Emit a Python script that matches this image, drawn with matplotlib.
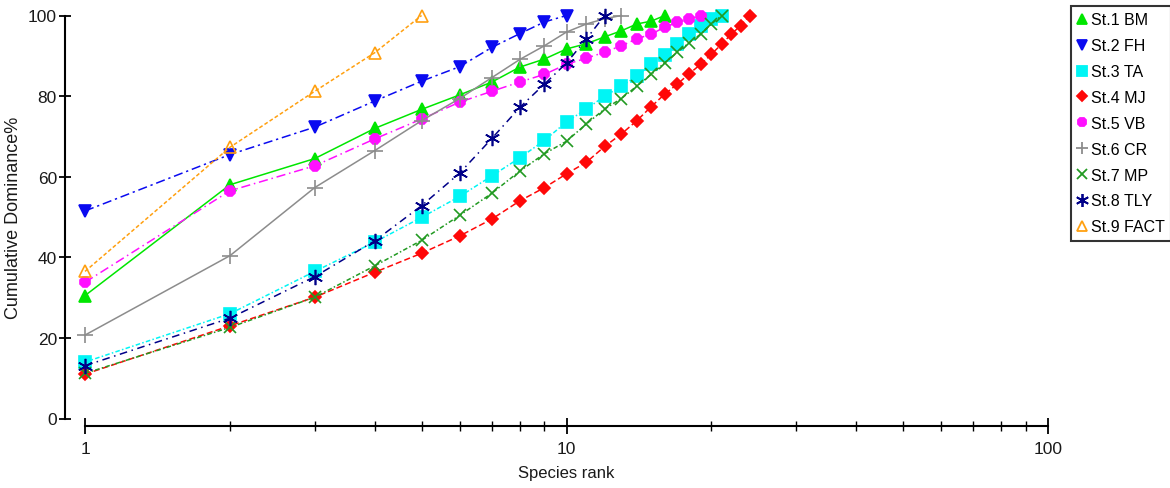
import numpy as np
import matplotlib
matplotlib.use("Agg")
import matplotlib.pyplot as plt
from matplotlib.lines import Line2D
from matplotlib.ticker import LogLocator, NullFormatter, FixedLocator

plt.rcParams['font.family'] = ['Liberation Sans', 'DejaVu Sans']

# cumulative dominance (%) by species rank, one list per station
bm = [30.5, 58.0, 64.5, 72.0, 76.7, 80.3, 83.5, 87.2, 89.2, 91.7, 93.0, 94.7, 96.2, 97.9, 98.6, 100.0]
fh = [51.5, 65.5, 72.3, 78.8, 83.7, 87.3, 92.1, 95.5, 98.4, 100.0]
ta = [14.0, 26.0, 36.5, 43.8, 49.9, 55.1, 60.2, 64.7, 69.0, 73.6, 76.8, 80.0, 82.4, 85.0,
      87.9, 90.3, 92.9, 95.3, 97.5, 99.1, 100.0]
mj = [11.0, 23.0, 30.1, 36.3, 41.0, 45.3, 49.5, 54.0, 57.3, 60.7, 63.6, 67.5, 70.6, 73.9,
      77.4, 80.5, 83.0, 85.6, 87.9, 90.4, 92.9, 95.4, 97.5, 100.0]
vb = [33.8, 56.5, 62.7, 69.4, 74.3, 78.5, 81.2, 83.5, 85.4, 87.9, 89.4, 90.9, 92.5, 94.2,
      95.4, 97.1, 98.3, 99.1, 100.0]
cr = [20.7, 40.4, 57.3, 66.5, 73.9, 79.4, 84.6, 89.1, 92.5, 95.9, 97.9, 99.2, 100.0]
mp = [11.2, 22.6, 30.1, 37.9, 44.2, 50.4, 55.9, 61.4, 65.7, 68.8, 73.1, 76.8, 79.4, 82.5,
      85.4, 88.3, 90.9, 93.3, 95.4, 97.9, 100.0]
tly = [13.1, 24.9, 35.2, 44.1, 52.8, 60.9, 69.5, 77.2, 83.0, 88.2, 94.2, 100.0]
fact = [36.5, 67.3, 81.2, 90.8, 100.0]

labels = ['St.1 BM', 'St.2 FH', 'St.3 TA', 'St.4 MJ', 'St.5 VB',
          'St.6 CR', 'St.7 MP', 'St.8 TLY', 'St.9 FACT']
series = [bm, fh, ta, mj, vb, cr, mp, tly, fact]

# style for each station
styles = [
    dict(color='#00e600', marker='^', ms=8, ls='-'),
    dict(color='#0a0af0', marker='v', ms=8, ls=(0, (6, 2.5, 1.5, 2.5))),
    dict(color='#00f5f5', marker='s', ms=8, ls=(0, (3, 1.5, 1, 1.5))),
    dict(color='#ff0808', marker='D', ms=6.5, ls=(0, (4, 2))),
    dict(color='#ff10ff', marker='8', ms=7.5, ls=(0, (6, 2.5, 1, 2.5))),
    dict(color='#8c8c8c', marker='+', ms=11, ls='-'),
    dict(color='#229a22', marker='x', ms=9, ls=(0, (3, 1.5, 1, 1.5))),
    dict(color='#000088', marker=(6, 2, 0), ms=11, ls=(0, (5, 3, 1, 3))),
    dict(color='#ffa010', marker='^', ms=8, ls=(0, (2.5, 1.5)), mfc='none'),
]

fig = plt.figure(figsize=(11.7, 4.89), dpi=100)
W, H = 1170, 489
ax = fig.add_axes([85 / W, (H - 419.5) / H, (1048 - 85) / W, 403 / H])

for vals, st in zip(series, styles):
    ranks = np.arange(1, len(vals) + 1)
    ax.plot(ranks, vals, color=st['color'], ls=st['ls'], lw=1.1,
            marker=st['marker'], ms=st['ms'], mfc=st.get('mfc', st['color']),
            mec=st['color'], mew=1.2, clip_on=False)

ax.set_xscale('log')
ax.set_xlim(1, 100)
ax.set_ylim(0, 100)

for side in ['top', 'right']:
    ax.spines[side].set_visible(False)
ax.spines['left'].set_position(('outward', 14.4))
ax.spines['bottom'].set_position(('outward', 5.4))
ax.spines['left'].set_linewidth(1.5)
ax.spines['bottom'].set_linewidth(1.5)

ax.xaxis.set_major_locator(FixedLocator([1, 10, 100]))
ax.xaxis.set_minor_locator(LogLocator(base=10, subs=np.arange(2, 10)))
ax.xaxis.set_minor_formatter(NullFormatter())
ax.set_xticklabels(['1', '10', '100'])
ax.set_yticks([0, 20, 40, 60, 80, 100])

ax.tick_params(axis='x', which='major', direction='inout', length=12, width=1.3,
               labelsize=12.5, pad=5, labelcolor='#1a1a1a')
ax.tick_params(axis='x', which='minor', direction='inout', length=6.5, width=1.0)
ax.tick_params(axis='y', which='major', direction='inout', length=8.6, width=1.3,
               labelsize=12.5, pad=1.5, labelcolor='#1a1a1a')

ax.set_xlabel('Species rank', fontsize=12, labelpad=6, color='#1a1a1a')
ax.set_ylabel('Cumulative Dominance%', fontsize=13, labelpad=4, color='#1a1a1a')

handles = [Line2D([], [], ls='none', color=st['color'], marker=st['marker'],
                  ms=st['ms'] * 0.85, mfc=st.get('mfc', st['color']), mec=st['color'], mew=1.3)
           for st in styles]
leg = fig.legend(handles, labels, loc='upper left', bbox_to_anchor=(1071 / W, 1 - 7 / H),
                 fontsize=11.5, frameon=True, fancybox=False, handlelength=0.6,
                 handletextpad=0.25, labelspacing=0.68, borderpad=0.4, borderaxespad=0)
leg.get_frame().set_edgecolor('black')
leg.get_frame().set_linewidth(1.5)

fig.savefig('out.png', dpi=100)
